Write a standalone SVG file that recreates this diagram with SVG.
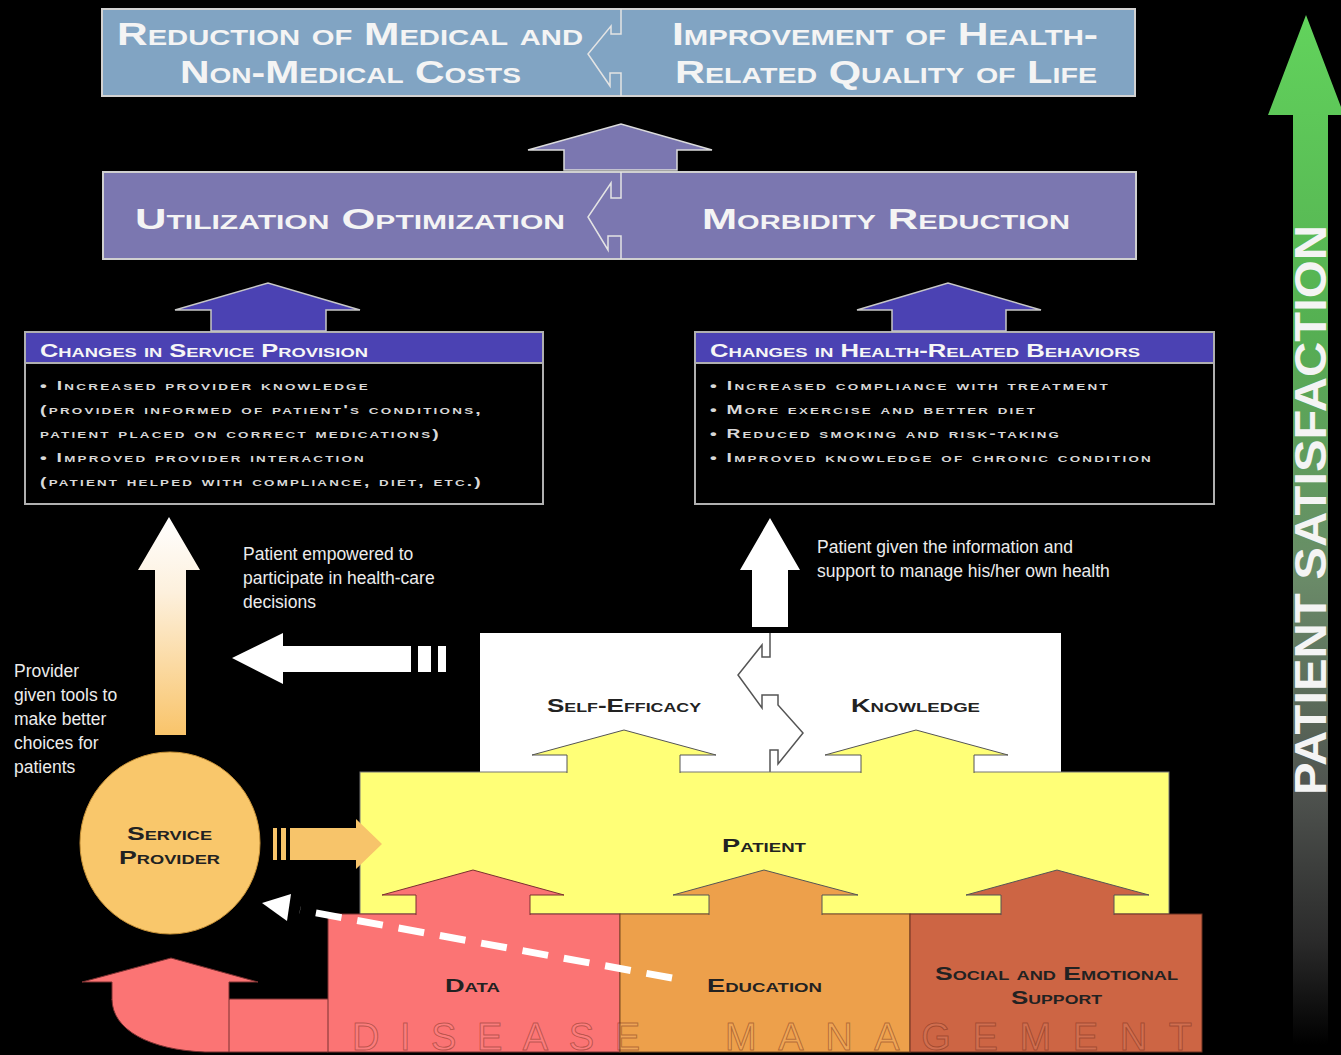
<svg xmlns="http://www.w3.org/2000/svg" width="1341" height="1055" viewBox="0 0 1341 1055">
<defs>
<linearGradient id="gWhiteOrange" x1="0" y1="0" x2="0" y2="1">
<stop offset="0" stop-color="#ffffff"/>
<stop offset="0.35" stop-color="#fdf0dc"/>
<stop offset="1" stop-color="#f9c46a"/>
</linearGradient>
<linearGradient id="gGreen" gradientUnits="userSpaceOnUse" x1="0" y1="15" x2="0" y2="1045">
<stop offset="0" stop-color="#62d35c"/>
<stop offset="0.3" stop-color="#55b052"/>
<stop offset="0.55" stop-color="#6a8a68"/>
<stop offset="0.75" stop-color="#505450"/>
<stop offset="0.9" stop-color="#2a2a2a"/>
<stop offset="1" stop-color="#000000"/>
</linearGradient>
</defs>
<style>
.sc{font-family:"Liberation Sans",Arial,sans-serif;font-weight:bold;font-variant:small-caps;}
.big{font-size:32px;fill:#f4f4f4;}
.mid{font-size:29px;fill:#f4f4f4;}
.hdr{font-size:18px;fill:#f6f6f6;}
.body{font-family:"Liberation Sans",Arial,sans-serif;font-weight:bold;font-variant:small-caps;font-size:13px;letter-spacing:1.5px;fill:#d8d8d8;}
.dark{font-size:19px;fill:#222;}
.note{font-family:"Liberation Sans",Arial,sans-serif;font-size:17.5px;fill:#ececec;}
.chev{fill:none;stroke:#e4e4e4;stroke-width:1.5;}
.ol{stroke:#555;stroke-width:1;}
.olr{stroke:#7a3030;stroke-width:1;}
.wm{font-family:"Liberation Sans",Arial,sans-serif;font-size:38px;fill:rgba(255,255,255,0.08);stroke:rgba(110,40,20,0.45);stroke-width:1;}
</style>
<rect x="0" y="0" width="1341" height="1055" fill="#000"/>

<g id="outcomes">
<rect x="102" y="9" width="1033" height="87" fill="#81a4c3" stroke="#d2d2d2" stroke-width="2"/>
<path class="chev" d="M621,9 V34 H611 V26 L588,54 L610,86 V73 H621 V96"/>
<text class="sc big" x="117" y="45" textLength="466" lengthAdjust="spacingAndGlyphs">Reduction of Medical and</text>
<text class="sc big" x="180" y="83" textLength="341" lengthAdjust="spacingAndGlyphs">Non-Medical Costs</text>
<text class="sc big" x="672" y="45" textLength="426" lengthAdjust="spacingAndGlyphs">Improvement of Health-</text>
<text class="sc big" x="675" y="83" textLength="422" lengthAdjust="spacingAndGlyphs">Related Quality of Life</text>
</g>

<g id="intermediate">
<rect x="103" y="172" width="1033" height="87" fill="#7b77b0" stroke="#d0d0d0" stroke-width="2"/>
<path class="chev" d="M621,172 V198 H611 V183 L588,217 L608,250 V236 H621 V259"/>
<text class="sc mid" x="135" y="229" textLength="430" lengthAdjust="spacingAndGlyphs">Utilization Optimization</text>
<text class="sc mid" x="702" y="229" textLength="368" lengthAdjust="spacingAndGlyphs">Morbidity Reduction</text>
</g>

<g id="service-provision">
<rect x="25" y="332" width="518" height="172" fill="#000" stroke="#b0b0b0" stroke-width="2"/>
<rect x="25" y="332" width="518" height="31" fill="#4b42b3" stroke="#b0b0b0" stroke-width="2"/>
<text class="sc hdr" x="40" y="357" textLength="328" lengthAdjust="spacingAndGlyphs">Changes in Service Provision</text>
<text class="body" x="40" y="390" textLength="330" lengthAdjust="spacingAndGlyphs">• Increased provider knowledge</text>
<text class="body" x="40" y="414" textLength="443" lengthAdjust="spacingAndGlyphs">(provider informed of patient's conditions,</text>
<text class="body" x="40" y="438" textLength="401" lengthAdjust="spacingAndGlyphs">patient placed on correct medications)</text>
<text class="body" x="40" y="462" textLength="326" lengthAdjust="spacingAndGlyphs">• Improved provider interaction</text>
<text class="body" x="40" y="486" textLength="443" lengthAdjust="spacingAndGlyphs">(patient helped with compliance, diet, etc.)</text>
</g>

<g id="health-behaviors">
<rect x="695" y="332" width="519" height="172" fill="#000" stroke="#b0b0b0" stroke-width="2"/>
<rect x="695" y="332" width="519" height="31" fill="#4b42b3" stroke="#b0b0b0" stroke-width="2"/>
<text class="sc hdr" x="710" y="357" textLength="430" lengthAdjust="spacingAndGlyphs">Changes in Health-Related Behaviors</text>
<text class="body" x="710" y="390" textLength="400" lengthAdjust="spacingAndGlyphs">• Increased compliance with treatment</text>
<text class="body" x="710" y="414" textLength="327" lengthAdjust="spacingAndGlyphs">• More exercise and better diet</text>
<text class="body" x="710" y="438" textLength="351" lengthAdjust="spacingAndGlyphs">• Reduced smoking and risk-taking</text>
<text class="body" x="710" y="462" textLength="443" lengthAdjust="spacingAndGlyphs">• Improved knowledge of chronic condition</text>
</g>

<g id="self-efficacy-knowledge">
<rect x="480" y="633" width="581" height="139" fill="#ffffff"/>
<path d="M770,633 V657 H762 V645 L738,675 L762,708 V695 H778 V705 L803,733 L778,764 V750 H770 V772" fill="none" stroke="#555" stroke-width="1.5"/>
<text class="sc dark" x="547" y="712" textLength="154" lengthAdjust="spacingAndGlyphs">Self-Efficacy</text>
<text class="sc dark" x="851" y="712" textLength="129" lengthAdjust="spacingAndGlyphs">Knowledge</text>
</g>

<g id="patient">
<rect x="360" y="772" width="809" height="142" fill="#ffff77" stroke="#777" stroke-width="1"/>
<text class="sc dark" x="722" y="852" textLength="84" lengthAdjust="spacingAndGlyphs">Patient</text>
</g>

<g id="service-provider">
<ellipse cx="170" cy="843" rx="90" ry="91" fill="#f9c76b" stroke="#c99338" stroke-width="1"/>
<text class="sc dark" x="127" y="840" textLength="85" lengthAdjust="spacingAndGlyphs">Service</text>
<text class="sc dark" x="119" y="864" textLength="101" lengthAdjust="spacingAndGlyphs">Provider</text>
</g>

<g id="disease-management">
<path d="M112,999 H328 V1052 H205 C150,1050 112,1030 112,999 Z" fill="#fb7474"/>
<rect x="328" y="914" width="292" height="138" fill="#fb7474" stroke="#7a3030" stroke-width="1"/>
<rect x="620" y="914" width="290" height="138" fill="#eda04b" stroke="#7a4a20" stroke-width="1"/>
<rect x="910" y="914" width="292" height="138" fill="#cd6544" stroke="#6a3020" stroke-width="1"/>
<path d="M112,999 H328 M229,999 V1052 M112,999 C112,1030 150,1050 205,1052 H328" fill="none" stroke="#7a3030" stroke-width="1"/>
<path class="olr" d="M112,1000 V982 H82 L171,958 L258,982 H229 V1000" fill="#fb7474"/>
<text class="wm" x="352" y="1050" textLength="288" lengthAdjust="spacing">DISEASE</text>
<text class="wm" x="725" y="1050" textLength="467" lengthAdjust="spacing">MANAGEMENT</text>
<text class="sc dark" x="445" y="992" textLength="55" lengthAdjust="spacingAndGlyphs">Data</text>
<text class="sc dark" x="707" y="992" textLength="115" lengthAdjust="spacingAndGlyphs">Education</text>
<text class="sc dark" x="935" y="980" textLength="243" lengthAdjust="spacingAndGlyphs">Social and Emotional</text>
<text class="sc dark" x="1011" y="1004" textLength="91" lengthAdjust="spacingAndGlyphs">Support</text>
</g>

<g id="patient-satisfaction">
<polygon points="1306,15 1344,115 1328,115 1328,1045 1293,1045 1293,115 1268,115" fill="url(#gGreen)"/>
<text transform="translate(1326,510) rotate(-90)" x="0" y="0" text-anchor="middle" font-family="Liberation Sans,Arial,sans-serif" font-weight="bold" font-size="44" fill="#f4f4f4" textLength="570" lengthAdjust="spacingAndGlyphs">PATIENT SATISFACTION</text>
</g>

<g id="labels">
<text class="note" x="243" y="560">Patient empowered to</text>
<text class="note" x="243" y="584">participate in health-care</text>
<text class="note" x="243" y="608">decisions</text>
<text class="note" x="14" y="677">Provider</text>
<text class="note" x="14" y="701">given tools to</text>
<text class="note" x="14" y="725">make better</text>
<text class="note" x="14" y="749">choices for</text>
<text class="note" x="14" y="773">patients</text>
<text class="note" x="817" y="553">Patient given the information and</text>
<text class="note" x="817" y="577">support to manage his/her own health</text>
</g>

<g id="connectors">
<path d="M564,170 V150 H528 L621,124 L712,150 H677 V170 Z" fill="#7b77b0" stroke="#dcdcdc" stroke-width="1.5"/>
<path d="M211,331 V310 H175 L268,283 L360,310 H326 V331 Z" fill="#4b42b3" stroke="#c8c8c8" stroke-width="1.5"/>
<path d="M892,331 V310 H857 L948,283 L1041,310 H1006 V331 Z" fill="#4b42b3" stroke="#c8c8c8" stroke-width="1.5"/>
<polygon points="169,517 200,570 186,570 186,735 155,735 155,570 138,570" fill="url(#gWhiteOrange)"/>
<polygon points="770,518 800,570 788,570 788,627 752,627 752,570 740,570" fill="#ffffff"/>
<polygon points="232,658 283,633 283,646 411,646 411,672 283,672 283,684" fill="#ffffff"/>
<rect x="418" y="646" width="13" height="26" fill="#ffffff"/>
<rect x="438" y="646" width="8" height="26" fill="#ffffff"/>
<rect x="273" y="828" width="4" height="32" fill="#f7c46a"/>
<rect x="281" y="828" width="5" height="32" fill="#f7c46a"/>
<polygon points="290,828 356,828 356,819 382,844 356,869 356,860 290,860" fill="#f7c46a"/>
<path class="ol" d="M567,773 V755 H532 L624,730 L716,755 H680 V773" fill="#ffff77"/>
<path class="ol" d="M861,773 V755 H825 L916,730 L1008,755 H974 V773" fill="#ffff77"/>
<path class="olr" d="M416,915 V895 H382 L473,870 L564,895 H530 V915" fill="#fb7474"/>
<path class="ol" d="M709,915 V895 H673 L764,870 L858,895 H822 V915" fill="#eda04b" stroke="#7a4a20"/>
<path class="ol" d="M1001,915 V895 H966 L1057,870 L1149,895 H1114 V915" fill="#cd6544" stroke="#6a3020"/>
<line x1="672" y1="978" x2="300" y2="910" stroke="#ffffff" stroke-width="7" stroke-dasharray="26,16"/>
<polygon points="262,903 291,894 287,921" fill="#ffffff"/>
</g>
</svg>
